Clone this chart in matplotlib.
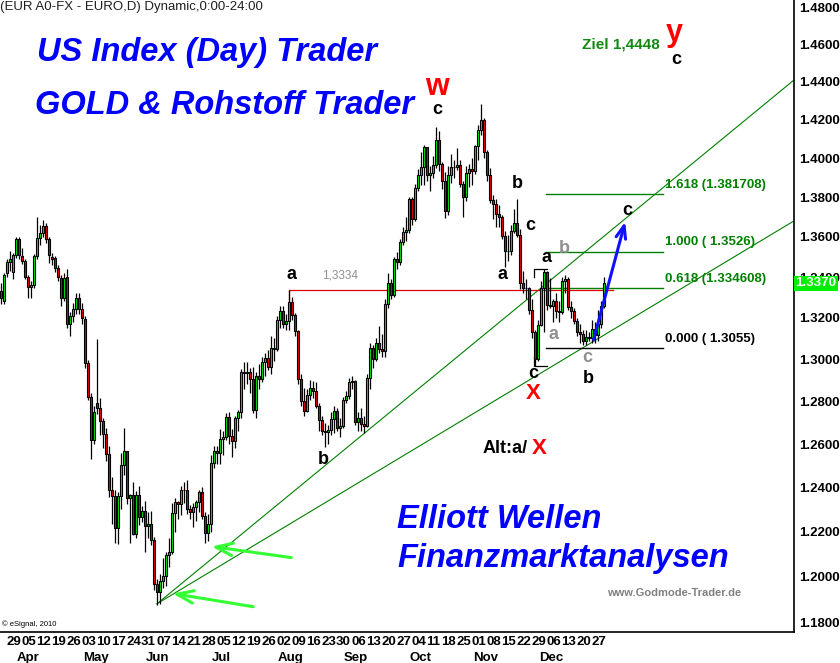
import numpy as np
import pandas as pd
import matplotlib
matplotlib.use('Agg')
import matplotlib.pyplot as plt

plt.rcParams['font.family'] = ['Liberation Sans', 'DejaVu Sans']

# ---------- data: EUR/USD daily, 25 Mar 2010 - 31 Dec 2010 ----------
dates = pd.bdate_range('2010-03-25', '2010-12-31')

opens = [
    1.3330, 1.3280,
    1.3420, 1.3475, 1.3425, 1.3509, 1.3588,
    1.3505, 1.3480, 1.3400, 1.3350, 1.3360,
    1.3502, 1.3593, 1.3620, 1.3655, 1.3588,
    1.3500, 1.3495, 1.3445, 1.3395, 1.3297,
    1.3400, 1.3168, 1.3208, 1.3243, 1.3297,
    1.3243, 1.3195, 1.2980, 1.2820, 1.2620,
    1.2790, 1.2770, 1.2707, 1.2646, 1.2552,
    1.2390, 1.2362, 1.2216, 1.2360, 1.2502,
    1.2566, 1.2350, 1.2368, 1.2190, 1.2367,
    1.2268, 1.2292, 1.2225, 1.2233, 1.2161,
    1.1968, 1.1930, 1.1980, 1.2000, 1.2094,
    1.2110, 1.2283, 1.2336, 1.2327, 1.2387,
    1.2387, 1.2304, 1.2288, 1.2311, 1.2333,
    1.2380, 1.2272, 1.2192, 1.2236, 1.2513,
    1.2566, 1.2560, 1.2622, 1.2634, 1.2728,
    1.2638, 1.2613, 1.2722, 1.2748, 1.2939,
    1.2934, 1.2937, 1.2904, 1.2757, 1.2921,
    1.2905, 1.2986, 1.3005, 1.2964, 1.3056,
    1.3050, 1.3190, 1.3233, 1.3169, 1.3185,
    1.3276, 1.3213, 1.3134, 1.2904, 1.2803,
    1.2755, 1.2831, 1.2863, 1.2849, 1.2780,
    1.2711, 1.2659, 1.2657, 1.2665, 1.2719,
    1.2754, 1.2675, 1.2684, 1.2806, 1.2823,
    1.2893, 1.2895, 1.2702, 1.2720, 1.2692,
    1.2686, 1.2910, 1.3052, 1.3003, 1.3077,
    1.3051, 1.3039, 1.3266, 1.3372, 1.3312,
    1.3490, 1.3472, 1.3572, 1.3624, 1.3633,
    1.3790, 1.3688, 1.3849, 1.3913, 1.3954,
    1.4055, 1.3914, 1.3924, 1.3963, 1.4095,
    1.3972, 1.3880, 1.3728, 1.3912, 1.3956,
    1.3954, 1.3964, 1.3867, 1.3800, 1.3922,
    1.3944, 1.3936, 1.4061, 1.4145, 1.4196,
    1.4033, 1.3912, 1.3787, 1.3767, 1.3715,
    1.3701, 1.3603, 1.3529, 1.3530, 1.3629,
    1.3671, 1.3611, 1.3371, 1.3345, 1.3344,
    1.3236, 1.3129, 1.3003, 1.3167, 1.3348,
    1.3424, 1.3264, 1.3256, 1.3283, 1.3235,
    1.3226, 1.3379, 1.3390, 1.3255, 1.3235,
    1.3185, 1.3133, 1.3121, 1.3089, 1.3105,
    1.3104, 1.3145, 1.3115, 1.3172, 1.3260,
]
highs = [
    1.3370, 1.3420,
    1.3490, 1.3530, 1.3520, 1.3600, 1.3600,
    1.3545, 1.3490, 1.3410, 1.3380, 1.3515,
    1.3700, 1.3660, 1.3685, 1.3670, 1.3600,
    1.3520, 1.3505, 1.3460, 1.3410, 1.3420,
    1.3440, 1.3230, 1.3270, 1.3320, 1.3320,
    1.3270, 1.3210, 1.2995, 1.2840, 1.2780,
    1.3095, 1.2815, 1.2720, 1.2675, 1.2590,
    1.2450, 1.2390, 1.2380, 1.2560, 1.2675,
    1.2570, 1.2370, 1.2425, 1.2385, 1.2405,
    1.2315, 1.2340, 1.2290, 1.2295, 1.2175,
    1.1990, 1.2010, 1.2080, 1.2110, 1.2170,
    1.2330, 1.2350, 1.2340, 1.2405, 1.2425,
    1.2435, 1.2320, 1.2330, 1.2345, 1.2390,
    1.2400, 1.2290, 1.2280, 1.2550, 1.2590,
    1.2590, 1.2670, 1.2660, 1.2745, 1.2750,
    1.2670, 1.2730, 1.2760, 1.2955, 1.2985,
    1.2985, 1.2960, 1.2965, 1.2940, 1.2975,
    1.3010, 1.3030, 1.3045, 1.3110, 1.3100,
    1.3210, 1.3260, 1.3260, 1.3220, 1.3334,
    1.3300, 1.3225, 1.3140, 1.2930, 1.2865,
    1.2860, 1.2900, 1.2895, 1.2890, 1.2790,
    1.2730, 1.2700, 1.2690, 1.2750, 1.2780,
    1.2770, 1.2720, 1.2820, 1.2850, 1.2910,
    1.2920, 1.2900, 1.2750, 1.2770, 1.2730,
    1.2930, 1.3080, 1.3070, 1.3100, 1.3160,
    1.3120, 1.3290, 1.3420, 1.3390, 1.3500,
    1.3525, 1.3590, 1.3650, 1.3700, 1.3800,
    1.3800, 1.3865, 1.3945, 1.4030, 1.4070,
    1.4060, 1.3960, 1.4010, 1.4160, 1.4140,
    1.3980, 1.3930, 1.3960, 1.4020, 1.3990,
    1.4050, 1.3990, 1.3880, 1.3960, 1.3970,
    1.4000, 1.4070, 1.4170, 1.4282, 1.4210,
    1.4040, 1.3950, 1.3810, 1.3790, 1.3760,
    1.3710, 1.3630, 1.3610, 1.3660, 1.3740,
    1.3790, 1.3640, 1.3430, 1.3390, 1.3350,
    1.3290, 1.3140, 1.3190, 1.3380, 1.3440,
    1.3430, 1.3395, 1.3290, 1.3320, 1.3280,
    1.3400, 1.3410, 1.3400, 1.3280, 1.3250,
    1.3200, 1.3170, 1.3140, 1.3140, 1.3130,
    1.3190, 1.3180, 1.3240, 1.3280, 1.3400,
]
lows = [
    1.3268, 1.3268,
    1.3400, 1.3430, 1.3390, 1.3495, 1.3490,
    1.3465, 1.3390, 1.3295, 1.3295, 1.3345,
    1.3490, 1.3560, 1.3600, 1.3570, 1.3470,
    1.3460, 1.3425, 1.3380, 1.3260, 1.3280,
    1.3150, 1.3110, 1.3180, 1.3220, 1.3220,
    1.3170, 1.2960, 1.2805, 1.2530, 1.2600,
    1.2740, 1.2640, 1.2580, 1.2520, 1.2355,
    1.2235, 1.2150, 1.2145, 1.2300, 1.2455,
    1.2325, 1.2150, 1.2185, 1.2170, 1.2230,
    1.2245, 1.2110, 1.2170, 1.2140, 1.1940,
    1.1876, 1.1880, 1.1950, 1.1960, 1.2040,
    1.2100, 1.2200, 1.2255, 1.2275, 1.2330,
    1.2280, 1.2255, 1.2220, 1.2250, 1.2290,
    1.2255, 1.2150, 1.2160, 1.2200, 1.2490,
    1.2510, 1.2510, 1.2550, 1.2620, 1.2600,
    1.2540, 1.2580, 1.2660, 1.2720, 1.2860,
    1.2880, 1.2840, 1.2745, 1.2720, 1.2860,
    1.2890, 1.2920, 1.2950, 1.2930, 1.2990,
    1.3040, 1.3150, 1.3150, 1.3140, 1.3140,
    1.3190, 1.3110, 1.2880, 1.2780, 1.2730,
    1.2750, 1.2805, 1.2815, 1.2770, 1.2660,
    1.2640, 1.2588, 1.2600, 1.2640, 1.2650,
    1.2660, 1.2635, 1.2675, 1.2790, 1.2810,
    1.2860, 1.2690, 1.2660, 1.2660, 1.2650,
    1.2680, 1.2860, 1.2960, 1.2990, 1.3030,
    1.3010, 1.3010, 1.3250, 1.3290, 1.3300,
    1.3440, 1.3460, 1.3560, 1.3580, 1.3620,
    1.3660, 1.3680, 1.3830, 1.3860, 1.3860,
    1.3880, 1.3830, 1.3900, 1.3950, 1.3935,
    1.3840, 1.3695, 1.3710, 1.3870, 1.3900,
    1.3940, 1.3850, 1.3700, 1.3780, 1.3850,
    1.3860, 1.3920, 1.3990, 1.4120, 1.4000,
    1.3880, 1.3770, 1.3690, 1.3650, 1.3650,
    1.3590, 1.3450, 1.3480, 1.3510, 1.3620,
    1.3600, 1.3340, 1.3320, 1.3290, 1.3220,
    1.3100, 1.2968, 1.2990, 1.3160, 1.3130,
    1.3240, 1.3250, 1.3180, 1.3200, 1.3180,
    1.3220, 1.3320, 1.3240, 1.3200, 1.3170,
    1.3110, 1.3080, 1.3070, 1.3070, 1.3090,
    1.3080, 1.3080, 1.3090, 1.3150, 1.3250,
]
closes = [
    1.3295, 1.3410,
    1.3475, 1.3490, 1.3509, 1.3588, 1.3509,
    1.3480, 1.3400, 1.3350, 1.3360, 1.3502,
    1.3593, 1.3620, 1.3655, 1.3588, 1.3510,
    1.3490, 1.3445, 1.3400, 1.3297, 1.3395,
    1.3168, 1.3208, 1.3243, 1.3297, 1.3243,
    1.3200, 1.2980, 1.2820, 1.2620, 1.2750,
    1.2770, 1.2707, 1.2646, 1.2552, 1.2390,
    1.2362, 1.2216, 1.2360, 1.2502, 1.2566,
    1.2350, 1.2368, 1.2190, 1.2367, 1.2268,
    1.2292, 1.2225, 1.2233, 1.2161, 1.1968,
    1.1930, 1.1980, 1.2000, 1.2094, 1.2110,
    1.2283, 1.2336, 1.2327, 1.2387, 1.2387,
    1.2304, 1.2288, 1.2311, 1.2333, 1.2380,
    1.2272, 1.2192, 1.2236, 1.2513, 1.2566,
    1.2560, 1.2622, 1.2634, 1.2728, 1.2638,
    1.2613, 1.2722, 1.2748, 1.2939, 1.2934,
    1.2937, 1.2904, 1.2757, 1.2921, 1.2905,
    1.2986, 1.3005, 1.2964, 1.3056, 1.3050,
    1.3190, 1.3233, 1.3169, 1.3185, 1.3276,
    1.3213, 1.3134, 1.2904, 1.2803, 1.2755,
    1.2831, 1.2863, 1.2849, 1.2780, 1.2711,
    1.2659, 1.2657, 1.2665, 1.2719, 1.2754,
    1.2675, 1.2684, 1.2806, 1.2823, 1.2893,
    1.2895, 1.2702, 1.2720, 1.2692, 1.2686,
    1.2910, 1.3052, 1.3003, 1.3077, 1.3051,
    1.3039, 1.3266, 1.3372, 1.3312, 1.3490,
    1.3472, 1.3572, 1.3624, 1.3633, 1.3790,
    1.3688, 1.3849, 1.3913, 1.3954, 1.4055,
    1.3914, 1.3924, 1.3963, 1.4095, 1.3972,
    1.3880, 1.3728, 1.3912, 1.3956, 1.3954,
    1.3964, 1.3867, 1.3800, 1.3922, 1.3944,
    1.3936, 1.4061, 1.4145, 1.4196, 1.4033,
    1.3912, 1.3787, 1.3767, 1.3715, 1.3701,
    1.3603, 1.3529, 1.3530, 1.3629, 1.3671,
    1.3611, 1.3371, 1.3345, 1.3344, 1.3236,
    1.3129, 1.3003, 1.3167, 1.3348, 1.3424,
    1.3264, 1.3256, 1.3283, 1.3235, 1.3226,
    1.3379, 1.3390, 1.3255, 1.3235, 1.3185,
    1.3133, 1.3121, 1.3089, 1.3105, 1.3104,
    1.3145, 1.3115, 1.3172, 1.3260, 1.3370,
]

y_ticks = [1.18, 1.20, 1.22, 1.24, 1.26, 1.28, 1.30, 1.32, 1.34,
           1.36, 1.38, 1.40, 1.42, 1.44, 1.46, 1.48]
last_price = 1.3370

# fibonacci projection
fib_labels = ['1.618 (1.381708)', '1.000 ( 1.3526)', '0.618 (1.334608)', '0.000 ( 1.3055)']
fib_levels = [1.381708, 1.3526, 1.334608, 1.3055]
fib_colors = ['#008000', '#008000', '#008000', 'black']

# trend lines from the June low: start day/price, price at the right edge
trend_start = ('2010-06-07', 1.1880)
trend_ends = [1.4409, 1.3680]

level_1_3334 = 1.3334

# ---------- figure ----------
W, H = 840, 663
fig = plt.figure(figsize=(W / 100, H / 100), dpi=100)
ax = fig.add_axes([0, 31 / H, 794 / W, 632 / H])

n = len(dates)
pos = np.arange(n)
o = np.array(opens); h = np.array(highs); l = np.array(lows); c = np.array(closes)
up = c >= o

ax.vlines(pos, l, h, color='black', lw=0.9, zorder=2)
ax.bar(pos[up], c[up] - o[up], bottom=o[up], width=0.85, color='#00ee00',
       edgecolor='black', linewidth=0.8, zorder=3)
ax.bar(pos[~up], o[~up] - c[~up], bottom=c[~up], width=0.85, color='#ee0000',
       edgecolor='black', linewidth=0.8, zorder=3)

ax.set_yscale('log')
ax.set_ylim(1.1757, 1.4840)
ax.set_xlim(-1 / 3, 793 / 3)

ax.yaxis.tick_right()
ax.set_yticks(y_ticks)
ax.set_yticklabels([f'{v:.4f}' for v in y_ticks], fontsize=9.5, fontweight='bold')
ax.yaxis.set_minor_locator(matplotlib.ticker.NullLocator())
ax.tick_params(axis='y', length=0, pad=4)
ax.set_xticks([])
for s in ['top', 'left']:
    ax.spines[s].set_visible(False)
ax.spines['right'].set_linewidth(1.2)
ax.spines['bottom'].set_linewidth(1.2)

# week / month labels
xt = ax.get_xaxis_transform()
mondays = [i for i, d in enumerate(dates) if d.weekday() == 0]
for i in mondays:
    ax.text(i - 0.3, -0.006, dates[i].strftime('%d'), transform=xt, ha='left',
            va='top', fontsize=9.5, fontweight='bold', clip_on=False)
seen = set()
for i, d in enumerate(dates):
    if d.month not in seen and d.day <= 7:
        seen.add(d.month)
        ax.text(max(i, 2.5) + 0.3, -0.032, d.strftime('%b'), transform=xt, ha='left',
                va='top', fontsize=9.5, fontweight='bold', clip_on=False)

# last price box
ax.text(1.002, ax.transAxes.inverted().transform(
            ax.transData.transform((0, last_price)))[1],
        f'{last_price:.4f}', transform=ax.transAxes, ha='left', va='center',
        color='white', fontsize=9.5, fontweight='bold', clip_on=False, zorder=10,
        bbox=dict(boxstyle='square,pad=0.12', fc='#00ee00', ec='none'))

# trend lines
d0 = dates.get_loc(pd.Timestamp(trend_start[0]))
for pe in trend_ends:
    ax.plot([d0, 793 / 3], [trend_start[1], pe], color='#008000', lw=0.8, zorder=1)

# 1,3334 level
i_aug6 = dates.get_loc(pd.Timestamp('2010-08-06'))
ax.plot([i_aug6, i_aug6, 204], [1.3290, level_1_3334, level_1_3334],
        color='#dd0000', lw=0.9, zorder=1)
ax.text(113, 1.3395, '1,3334', color='#909090', fontsize=8.5, ha='center')

# fib projection
fx0, fx1 = 181.7, 220.7
for txt, lv, col in zip(fib_labels, fib_levels, fib_colors):
    ax.plot([fx0, fx1], [lv, lv], color=col, lw=1.0, zorder=1)
    ax.text(fx1 + 0.6, lv * 1.0012, txt, color=col, fontsize=9.5,
            fontweight='bold', ha='left', va='bottom')
# fib anchor brackets
ax.plot([177.7, 177.7, 182], [1.3400, 1.3440, 1.3440], color='black', lw=0.9)
ax.plot([177.7, 177.7, 182], [1.3010, 1.2968, 1.2968], color='black', lw=0.9)

# blue projected arrow
ax.annotate('', xy=(208.3, 1.3689), xytext=(197.3, 1.3082),
            arrowprops=dict(arrowstyle='->,head_length=0.9,head_width=0.35',
                            color='#1010ff', lw=2.2))

# bright green arrows at the June low
for tip, tail in [((69.3, 1.2135), (97.7, 1.2082)), ((56.3, 1.1927), (85, 1.1865))]:
    ax.annotate('', xy=tip, xytext=tail,
                arrowprops=dict(arrowstyle='->,head_length=1.2,head_width=0.45',
                                color='#33ff33', lw=2.2))

# Elliott wave labels
lab = dict(fontweight='bold', ha='center', va='center')
ax.text(145.3, 1.4372, 'w', color='red', fontsize=22, **lab)
ax.text(145.3, 1.4251, 'c', color='black', fontsize=13, **lab)
ax.text(224.3, 1.4661, 'y', color='red', fontsize=22, **lab)
ax.text(225.0, 1.4516, 'c', color='black', fontsize=13, **lab)
ax.text(206.7, 1.4601, 'Ziel 1,4448', color='#108a10', fontsize=11, **lab)
ax.text(172.0, 1.3872, 'b', color='black', fontsize=13, **lab)
ax.text(176.3, 1.3659, 'c', color='black', fontsize=13, **lab)
ax.text(167.3, 1.3414, 'a', color='black', fontsize=13, **lab)
ax.text(96.7, 1.3414, 'a', color='black', fontsize=13, **lab)
ax.text(107.3, 1.2530, 'b', color='black', fontsize=13, **lab)
ax.text(181.7, 1.3499, 'a', color='black', fontsize=13, **lab)
ax.text(187.7, 1.3544, 'b', color='#909090', fontsize=13, **lab)
ax.text(184.3, 1.3121, 'a', color='#909090', fontsize=13, **lab)
ax.text(195.3, 1.3010, 'c', color='#909090', fontsize=13, **lab)
ax.text(195.7, 1.2910, 'b', color='black', fontsize=13, **lab)
ax.text(177.3, 1.2934, 'c', color='black', fontsize=13, **lab)
ax.text(177.3, 1.2839, 'X', color='red', fontsize=16, **lab)
ax.text(208.7, 1.3730, 'c', color='black', fontsize=13, **lab)
ax.text(175.5, 1.2580, 'Alt:a/', color='black', fontsize=13, fontweight='bold',
        ha='right', va='center')
ax.text(179.3, 1.2580, 'X', color='red', fontsize=16, **lab)

# headline texts
big = dict(color='#0000ff', fontsize=23.5, fontweight='bold', fontstyle='italic',
           ha='left', va='center', transform=ax.transAxes)
ax.text(37 / 794, 1 - 53 / 632, 'US Index (Day) Trader', **big)
ax.text(35 / 794, 1 - 105 / 632, 'GOLD & Rohstoff Trader', **big)
ax.text(397 / 794, 1 - 519 / 632, 'Elliott Wellen', **big)
ax.text(397 / 794, 1 - 558 / 632, 'Finanzmarktanalysen', **big)
ax.text(607 / 794, 1 - 593 / 632, 'www.Godmode-Trader.de', color='#808080',
        fontsize=8, fontweight='bold', ha='left', va='center', transform=ax.transAxes)
ax.text(2 / 794, 1 - 624 / 632, '\u00a9 eSignal, 2010', color='black', fontsize=5.5,
        ha='left', va='center', transform=ax.transAxes)
ax.text(0.5 / 794, 1 - 7 / 632, '(EUR A0-FX - EURO,D) Dynamic,0:00-24:00', color='#202020',
        fontsize=9.5, ha='left', va='center', transform=ax.transAxes)

fig.savefig('out.png', dpi=100)
